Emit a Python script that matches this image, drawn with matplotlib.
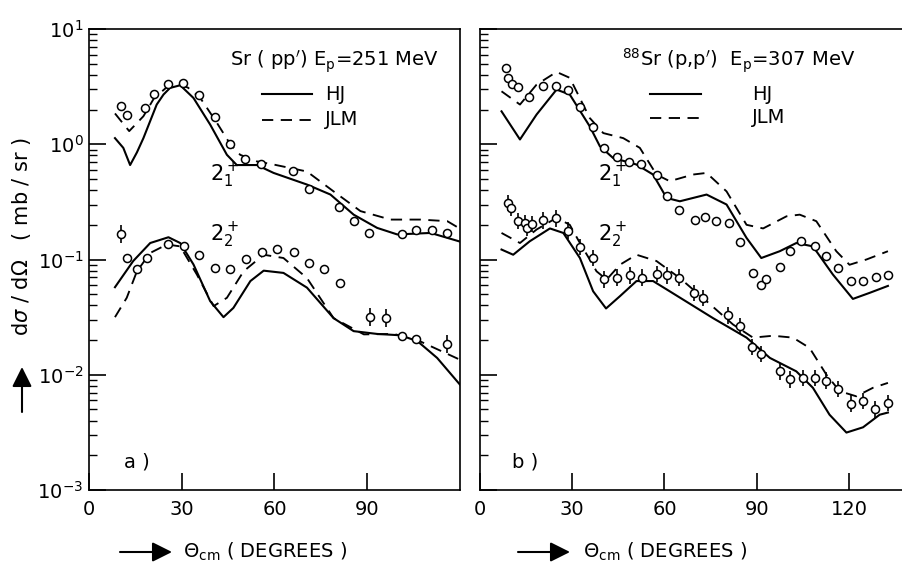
import numpy as np
import matplotlib
matplotlib.use("Agg")
import matplotlib.pyplot as plt
from matplotlib.patches import FancyArrowPatch
from matplotlib.ticker import LogLocator, NullFormatter

# ---------------- panel a) Sr(p,p') 251 MeV ----------------
a_data1_x = [10.5, 12.2, 18.1, 21.1, 25.5, 30.3, 35.6, 40.8, 45.7, 50.5, 55.6, 65.9,
             71.0, 80.8, 85.8, 90.7, 101.1, 105.8, 111.0, 115.9]
a_data1_y = [2.13, 1.81, 2.06, 2.75, 3.3, 3.4, 2.66, 1.71, 1.0, 0.746, 0.675, 0.59,
             0.405, 0.284, 0.215, 0.17, 0.167, 0.182, 0.182, 0.17]

a_data2_x = [10.5, 12.2, 15.6, 18.7, 25.5, 30.8, 35.6, 40.8, 45.7, 50.8, 56.1, 60.8,
             66.2, 71.3, 75.9, 81.1, 91.0, 96.1, 101.1, 105.8, 115.9]
a_data2_y = [0.167, 0.103, 0.082, 0.103, 0.136, 0.13, 0.11, 0.0846, 0.0835, 0.101, 0.116, 0.124,
             0.116, 0.0935, 0.083, 0.062, 0.0318, 0.031, 0.0219, 0.0206, 0.0185]
a_data2_err = [1.2, 1.0, 1.0, 1.0, 1.0, 1.0, 1.0, 1.0, 1.0, 1.0, 1.0, 1.0,
               1.0, 1.0, 1.0, 1.0, 1.2, 1.2, 1.0, 1.0, 1.2]

a_hj1_x = [8.4, 11.1, 13.3, 15.5, 17.6, 21.9, 24.1, 26.2, 29.5, 33.8, 39.2, 44.6, 47.8, 54.3,
           59.7, 70.5, 78.1, 85.6, 93.2, 99.7, 110.5, 120.0]
a_hj1_y = [1.13, 0.93, 0.66, 0.85, 1.13, 2.21, 2.7, 3.08, 3.25, 2.52, 1.48, 0.81, 0.66, 0.66,
           0.564, 0.447, 0.366, 0.245, 0.188, 0.165, 0.17, 0.143]

a_jlm1_x = [8.4, 13.0, 17.6, 21.0, 25.0, 28.5, 32.0, 36.0, 41.4, 45.7, 48.9, 54.3,
            59.7, 70.5, 79.1, 87.8, 97.5, 107.2, 115.9, 120.0]
a_jlm1_y = [1.85, 1.3, 1.75, 2.5, 3.1, 3.35, 3.1, 2.52, 1.53, 1.0, 0.81, 0.71,
            0.667, 0.58, 0.39, 0.263, 0.222, 0.222, 0.215, 0.185]

a_hj2_x = [8.4, 14.3, 19.8, 25.7, 29.5, 33.8, 39.2, 43.5, 46.7, 52.2, 56.5, 62.9,
           70.5, 79.1, 85.6, 93.2, 100.7, 106.2, 112.6, 120.0]
a_hj2_y = [0.0575, 0.097, 0.139, 0.156, 0.139, 0.0905, 0.0435, 0.0316, 0.038, 0.065, 0.080, 0.0765,
           0.057, 0.031, 0.0239, 0.0226, 0.022, 0.0196, 0.014, 0.0082]

a_jlm2_x = [8.4, 12.2, 15.5, 19.8, 25.2, 29.5, 34.9, 40.3, 44.6, 50.0, 56.5, 62.9,
            70.5, 79.1, 88.9, 98.6, 106.2, 120.0]
a_jlm2_y = [0.0316, 0.0465, 0.079, 0.114, 0.135, 0.13, 0.074, 0.0394, 0.0465, 0.079, 0.11, 0.103,
            0.069, 0.031, 0.0224, 0.0226, 0.02, 0.0135]

# ---------------- panel b) 88Sr(p,p') 307 MeV ----------------
b_data1_x = [8.45, 9.2, 10.3, 12.5, 16.0, 20.6, 24.7, 28.5, 32.5, 36.6, 40.3, 44.6,
             48.5, 52.5, 57.6, 60.7, 64.8, 69.9, 73.1, 76.7, 81.0, 84.7, 88.8, 91.5,
             92.95, 97.5, 100.8, 104.5, 108.9, 112.7, 116.4, 120.8, 124.6, 128.9, 132.7]
b_data1_y = [4.59, 3.77, 3.33, 3.12, 2.56, 3.18, 3.23, 2.98, 2.09, 1.4, 0.93, 0.77,
             0.70, 0.675, 0.54, 0.354, 0.271, 0.222, 0.233, 0.215, 0.208, 0.142, 0.0766, 0.0598,
             0.068, 0.0863, 0.118, 0.144, 0.13, 0.107, 0.0846, 0.0649, 0.065, 0.0703, 0.074]

b_data2_x = [9.2, 10.0, 12.5, 14.6, 15.4, 16.8, 20.6, 24.7, 28.5, 32.5, 36.6, 40.3,
             44.6, 48.8, 52.8, 57.6, 60.7, 64.7, 69.6, 72.6, 80.7, 84.7, 88.6, 91.5,
             97.5, 100.8, 105.1, 108.9, 112.7, 116.4, 120.6, 124.6, 128.6, 132.7]
b_data2_y = [0.31, 0.28, 0.215, 0.208, 0.188, 0.204, 0.218, 0.227, 0.178, 0.128, 0.103, 0.0673,
             0.0697, 0.0728, 0.0697, 0.075, 0.073, 0.0697, 0.0513, 0.0465, 0.0327, 0.0264, 0.0174, 0.0152,
             0.0107, 0.0091, 0.0094, 0.0094, 0.0089, 0.0075, 0.0056, 0.0059, 0.0050, 0.0057]
b_data2_err = [1.18] * 34

b_hj1_x = [7.0, 13.0, 18.4, 24.9, 29.2, 35.7, 39.0, 43.3, 50.9, 56.3, 60.7, 65.0,
           73.7, 80.2, 86.7, 91.5, 97.5, 102.9, 108.3, 114.8, 121.3, 126.7, 132.7]
b_hj1_y = [1.93, 1.1, 1.81, 2.98, 2.7, 1.43, 0.96, 0.76, 0.667, 0.546, 0.342, 0.32,
           0.366, 0.3, 0.154, 0.103, 0.118, 0.139, 0.13, 0.074, 0.0455, 0.0513, 0.059]

b_jlm1_x = [7.0, 13.0, 18.4, 24.9, 29.2, 35.7, 40.1, 46.6, 52.0, 57.4, 61.7, 69.3,
            73.7, 80.2, 86.7, 92.1, 99.7, 104.0, 109.4, 115.9, 120.2, 125.7, 132.7]
b_jlm1_y = [2.88, 2.21, 3.29, 4.24, 3.77, 1.69, 1.25, 1.13, 0.93, 0.546, 0.478, 0.546,
            0.564, 0.39, 0.2, 0.186, 0.237, 0.245, 0.215, 0.118, 0.09, 0.1, 0.118]

b_hj2_x = [7.0, 10.8, 16.2, 22.75, 27.1, 32.5, 36.8, 41.0, 45.5, 50.9, 56.3, 61.7,
           75.8, 86.7, 94.3, 102.9, 108.3, 113.7, 119.2, 124.6, 130.0, 132.7]
b_hj2_y = [0.122, 0.11, 0.144, 0.186, 0.17, 0.103, 0.053, 0.0376, 0.048, 0.065, 0.065, 0.053,
           0.031, 0.021, 0.014, 0.0107, 0.0077, 0.0045, 0.00315, 0.0035, 0.0045, 0.0047]

b_jlm2_x = [7.0, 13.0, 18.4, 24.9, 29.2, 32.5, 35.7, 37.9, 41.2, 45.5, 50.9, 57.4,
            65.0, 73.7, 82.3, 88.8, 95.3, 101.8, 107.2, 112.7, 117.0, 122.4, 127.8, 132.7]
b_jlm2_y = [0.17, 0.139, 0.182, 0.23, 0.2, 0.139, 0.1, 0.079, 0.067, 0.09, 0.11, 0.097,
            0.069, 0.0435, 0.0273, 0.021, 0.0218, 0.021, 0.0171, 0.01, 0.0072, 0.0065, 0.0077, 0.0085]

y_tick_vals = [1e-3, 1e-2, 1e-1, 1e0, 1e1]
a_xticks = [0, 30, 60, 90]
b_xticks = [0, 30, 60, 90, 120]

# ---------------- figure ----------------
W, H = 903, 571
fig = plt.figure(figsize=(W / 100, H / 100), dpi=100)


def rect(l, r, t, b):
    return [l / W, 1 - b / H, (r - l) / W, (b - t) / H]


axL = fig.add_axes(rect(89, 460, 29, 490))
axR = fig.add_axes(rect(480, 903, 29, 490))

LW = 1.5
DASH = (6, 4)
FS = 14


def style(ax, xmax, xticks):
    ax.set_yscale("log")
    ax.set_ylim(1e-3, 1e1)
    ax.set_xlim(0, xmax)
    ax.set_xticks(xticks)
    ax.set_yticks(y_tick_vals)
    ax.yaxis.set_minor_locator(LogLocator(base=10, subs=np.arange(2, 10), numticks=20))
    ax.yaxis.set_minor_formatter(NullFormatter())
    ax.tick_params(axis="both", which="major", direction="in", length=12, width=1.2,
                   labelsize=FS, top=False, right=False)
    ax.tick_params(axis="y", which="minor", direction="in", length=6, width=1.0, right=False)
    ax.tick_params(axis="x", pad=7)
    ax.tick_params(axis="y", pad=4)
    for s in ax.spines.values():
        s.set_linewidth(1.2)


def draw_set(ax, hx, hy, jx, jy):
    ax.plot(hx, hy, color="k", lw=LW, solid_joinstyle="round", zorder=2)
    ax.plot(jx, jy, color="k", lw=LW * 0.9, dashes=DASH, zorder=2)


def draw_data(ax, x, y, err=None):
    x = np.asarray(x)
    y = np.asarray(y)
    if err is not None:
        f = np.asarray(err)
        m = f > 1.0
        ax.errorbar(x[m], y[m], yerr=[y[m] - y[m] / f[m], y[m] * f[m] - y[m]], fmt="none",
                    ecolor="k", elinewidth=1.2, capsize=0, zorder=3)
    ax.plot(x, y, "o", mfc="white", mec="k", ms=5.8, mew=1.1, zorder=4)


style(axL, 120, a_xticks)
style(axR, 137.6, b_xticks)
axR.tick_params(labelleft=False)
axR.spines["right"].set_visible(False)

draw_set(axL, a_hj1_x, a_hj1_y, a_jlm1_x, a_jlm1_y)
draw_set(axL, a_hj2_x, a_hj2_y, a_jlm2_x, a_jlm2_y)
draw_data(axL, a_data1_x, a_data1_y)
draw_data(axL, a_data2_x, a_data2_y, a_data2_err)

draw_set(axR, b_hj1_x, b_hj1_y, b_jlm1_x, b_jlm1_y)
draw_set(axR, b_hj2_x, b_hj2_y, b_jlm2_x, b_jlm2_y)
draw_data(axR, b_data1_x, b_data1_y)
draw_data(axR, b_data2_x, b_data2_y, b_data2_err)

# legends / titles (axes coords)
axL.text(0.38, 0.918, r"Sr ( pp$'$) $\mathrm{E_p}$=251 MeV", transform=axL.transAxes,
         fontsize=FS, va="baseline")
axL.plot([0.466, 0.601], [0.859, 0.859], transform=axL.transAxes, color="k", lw=LW)
axL.text(0.636, 0.859, "HJ", transform=axL.transAxes, fontsize=FS, va="center")
axL.plot([0.466, 0.601], [0.803, 0.803], transform=axL.transAxes, color="k", lw=LW * 0.9,
         dashes=DASH)
axL.text(0.636, 0.803, "JLM", transform=axL.transAxes, fontsize=FS, va="center")
axL.text(0.327, 0.683, r"$\mathrm{2_1^+}$", transform=axL.transAxes, fontsize=15, va="center")
axL.text(0.327, 0.553, r"$\mathrm{2_2^+}$", transform=axL.transAxes, fontsize=15, va="center")
axL.text(0.095, 0.061, "a )", transform=axL.transAxes, fontsize=FS, va="center")

axR.text(0.336, 0.918, r"$^{88}$Sr (p,p$'$)  $\mathrm{E_p}$=307 MeV", transform=axR.transAxes,
         fontsize=FS, va="baseline")
axR.plot([0.402, 0.522], [0.859, 0.859], transform=axR.transAxes, color="k", lw=LW)
axR.text(0.643, 0.859, "HJ", transform=axR.transAxes, fontsize=FS, va="center")
axR.plot([0.402, 0.522], [0.807, 0.807], transform=axR.transAxes, color="k", lw=LW * 0.9,
         dashes=DASH)
axR.text(0.643, 0.807, "JLM", transform=axR.transAxes, fontsize=FS, va="center")
axR.text(0.279, 0.683, r"$\mathrm{2_1^+}$", transform=axR.transAxes, fontsize=15, va="center")
axR.text(0.279, 0.553, r"$\mathrm{2_2^+}$", transform=axR.transAxes, fontsize=15, va="center")
axR.text(0.076, 0.061, "b )", transform=axR.transAxes, fontsize=FS, va="center")

# axis labels with arrows
arrow = dict(arrowstyle="-|>,head_length=0.6,head_width=0.3", lw=1.5, color="k",
             mutation_scale=20, shrinkA=0, shrinkB=0)
fig.add_artist(FancyArrowPatch((120 / W, 1 - 552 / H), (172 / W, 1 - 552 / H),
                               transform=fig.transFigure, **arrow))
fig.add_artist(FancyArrowPatch((518 / W, 1 - 552 / H), (570 / W, 1 - 552 / H),
                               transform=fig.transFigure, **arrow))
fig.text(183 / W, 1 - 552 / H, r"$\Theta_{\mathrm{cm}}$ ( DEGREES )", fontsize=FS, va="center")
fig.text(583 / W, 1 - 552 / H, r"$\Theta_{\mathrm{cm}}$ ( DEGREES )", fontsize=FS, va="center")

fig.add_artist(FancyArrowPatch((22 / W, 1 - 412 / H), (22 / W, 1 - 367 / H),
                               transform=fig.transFigure, **arrow))
fig.text(22 / W, 1 - 236 / H, r"d$\sigma$ / d$\Omega$   ( mb / sr )", fontsize=15, rotation=90,
         ha="center", va="center")

fig.savefig("out.png", dpi=100)
